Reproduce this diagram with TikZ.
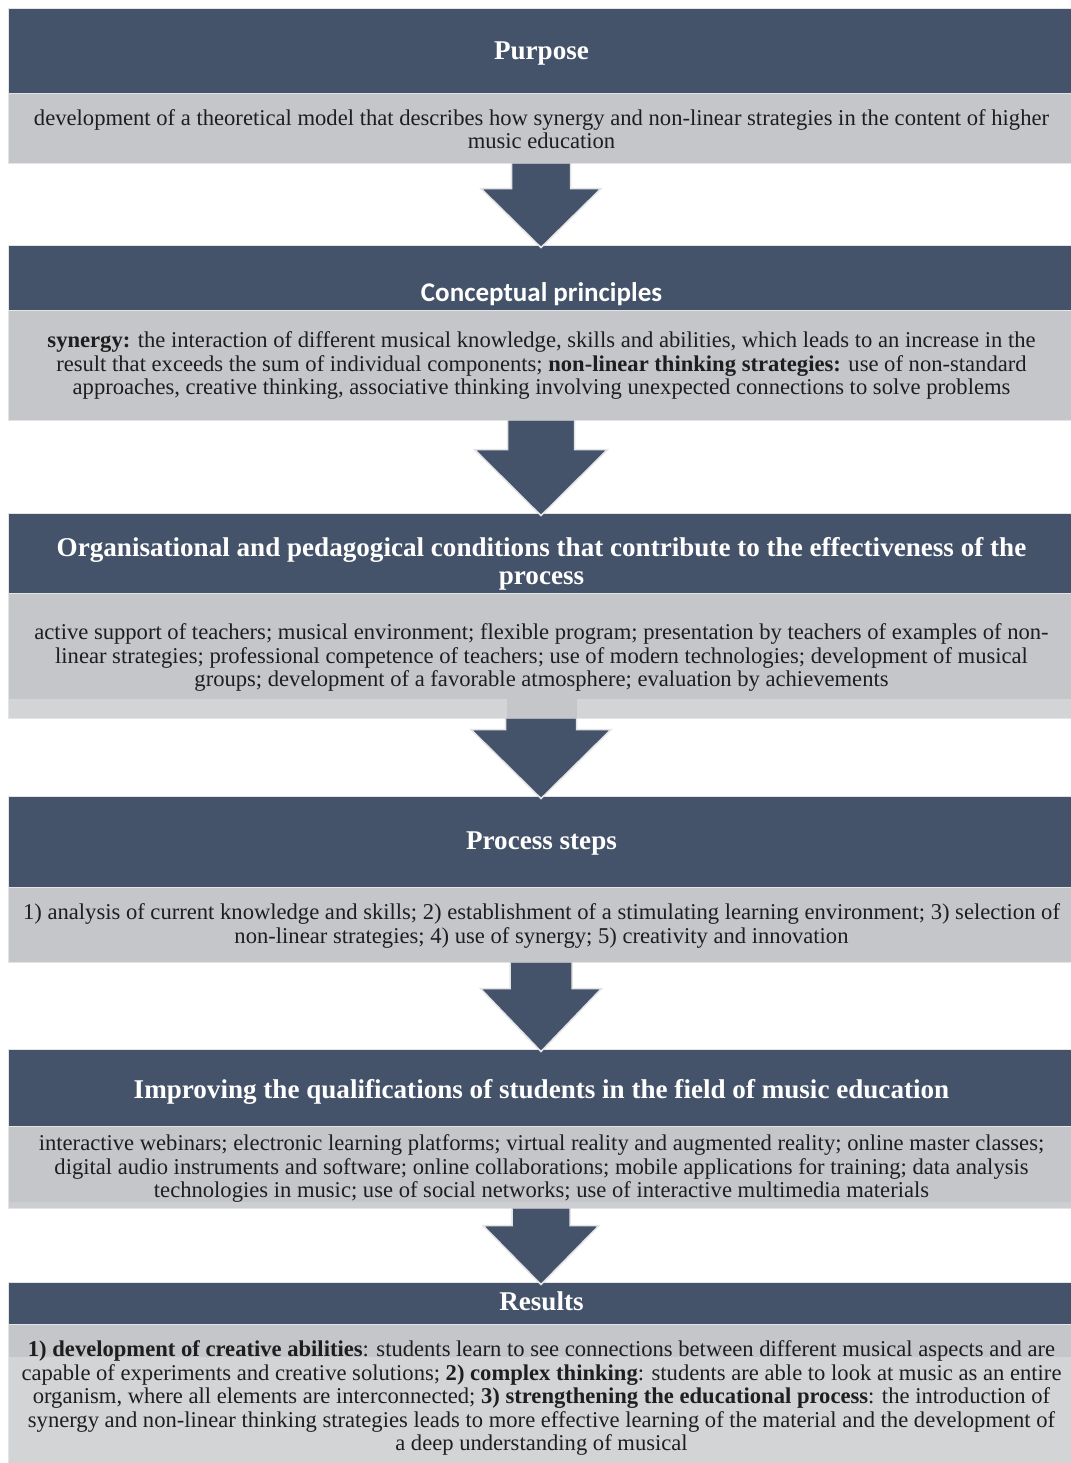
\documentclass[tikz,border=0pt]{standalone}
\usepackage{fontspec}
\setmainfont{Liberation Serif}
\newfontfamily\headsans{Carlito}
\usetikzlibrary{calc,fit}

\definecolor{slate}{HTML}{44536A}
\definecolor{panelgray}{HTML}{C4C6CA}
\definecolor{panellight}{HTML}{D3D4D6}
\definecolor{rim}{HTML}{E3E4E6}
\definecolor{inkgray}{HTML}{1E1E1E}

\tikzset{
  hdrbox/.style={fill=slate, draw=rim, line width=0.5pt, inner sep=0pt},
  bodybox/.style={fill=panelgray, draw=rim, line width=0.5pt, inner sep=0pt},
  hdrtext/.style={text=white, inner sep=0pt, align=center,
    font=\fontsize{13.55}{14}\selectfont\bfseries},
  bodytext/.style={text=inkgray, inner sep=0pt, align=center,
    font=\fontsize{11.3}{11.75}\selectfont},
  arrowfill/.style={fill=slate, draw=rim, line width=0.75pt, line join=miter},
}

% block arrow from the bottom of one panel to the header of the next
% #1 source, #2 target, #3 shaft half width, #4 head half width, #5 shaft length
\newcommand{\flowarrow}[5]{%
  \filldraw[arrowfill]
    ($(#1.south)+(-#3,0)$) -- ($(#1.south)+(-#3,#5)$) -- ($(#1.south)+(-#4,#5)$)
    -- ($(#2.north)+(0,3)$)
    -- ($(#1.south)+(#4,#5)$) -- ($(#1.south)+(#3,#5)$) -- ($(#1.south)+(#3,0)$);}

\begin{document}
\begin{tikzpicture}[x=0.5pt,y=-0.5pt]
\useasboundingbox (0,0) rectangle (1071,1463);
\fill[white] (0,0) rectangle (1071,1463);

% ---- panels ----
\node[hdrbox, fit={(8,8)(1074,93)}] (h1) {};
\node[bodybox, fit={(8,93)(1074,163)}] (b1) {};

\node[hdrbox, fit={(8,245)(1074,310)}] (h2) {};
\node[bodybox, fit={(8,310)(1074,420)}] (b2) {};

\node[hdrbox, fit={(8,513)(1074,593)}] (h3) {};
\node[bodybox, fit={(8,593)(1074,718)}] (b3) {};
\fill[panellight] (8.5,699) rectangle (507,717.5);
\fill[panellight] (577,699) rectangle (1074,717.5);

\node[hdrbox, fit={(8,796)(1074,887)}] (h4) {};
\node[bodybox, fit={(8,887)(1074,962)}] (b4) {};

\node[hdrbox, fit={(8,1049)(1074,1126)}] (h5) {};
\node[bodybox, fit={(8,1126)(1074,1208)}] (b5) {};
\fill[panellight!60!panelgray] (8.5,1202) rectangle (1074,1207.5);

\node[hdrbox, fit={(8,1282)(1074,1324)}] (h6) {};
\node[bodybox, fill=panellight, fit={(8,1324)(1074,1470)}] (b6) {};
\fill[panelgray] (8.5,1324.5) rectangle (1074,1357);

% ---- connecting block arrows ----
\flowarrow{b1}{h2}{29.5}{60}{25}
\flowarrow{b2}{h3}{33.5}{66.5}{29}
\flowarrow{b3}{h4}{35.5}{70}{11}
\flowarrow{b4}{h5}{31}{60.5}{26}
\flowarrow{b5}{h6}{29}{58}{17}

% ---- headings ----
\node[hdrtext, anchor=base] (t1) at (541.5,59) {Purpose};
\node[hdrtext, anchor=base, font=\headsans\fontsize{13.5}{14}\selectfont\bfseries] (t2) at (541.5,301) {Conceptual principles};
\node[hdrtext] (t3) at (541.5,564) {Organisational and pedagogical conditions that contribute to the effectiveness of the\\ process};
\node[hdrtext, anchor=base] (t4) at (541.5,849) {Process steps};
\node[hdrtext, anchor=base] (t5) at (541.5,1098) {Improving the qualifications of students in the field of music education};
\node[hdrtext, anchor=base] (t6) at (541.5,1310) {Results};

% ---- panel texts ----
\node[bodytext] (p1) at (541.5,129) {development of a theoretical model that describes how synergy and non-linear strategies in the content of higher\\ music education};
\node[bodytext] (p2) at (541.5,365.5) {\textbf{synergy:} the interaction of different musical knowledge, skills and abilities, which leads to an increase in the\\ result that exceeds the sum of individual components; \textbf{non-linear thinking strategies:} use of non-standard\\ approaches, creative thinking, associative thinking involving unexpected connections to solve problems};
\node[bodytext] (p3) at (541.5,657.5) {active support of teachers; musical environment; flexible program; presentation by teachers of examples of non-\\ linear strategies; professional competence of teachers; use of modern technologies; development of musical\\ groups; development of a favorable atmosphere; evaluation by achievements};
\node[bodytext] (p4) at (541.5,926) {1) analysis of current knowledge and skills; 2) establishment of a stimulating learning environment; 3) selection of\\ non-linear strategies; 4) use of synergy; 5) creativity and innovation};
\node[bodytext] (p5) at (541.5,1168.5) {interactive webinars; electronic learning platforms; virtual reality and augmented reality; online master classes;\\ digital audio instruments and software; online collaborations; mobile applications for training; data analysis\\ technologies in music; use of social networks; use of interactive multimedia materials};
\node[bodytext] (p6) at (541.5,1398) {\textbf{1) development of creative abilities}: students learn to see connections between different musical aspects and are\\ capable of experiments and creative solutions; \textbf{2) complex thinking}: students are able to look at music as an entire\\ organism, where all elements are interconnected; \textbf{3) strengthening the educational process}: the introduction of\\ synergy and non-linear thinking strategies leads to more effective learning of the material and the development of\\ a deep understanding of musical};
\end{tikzpicture}
\end{document}
